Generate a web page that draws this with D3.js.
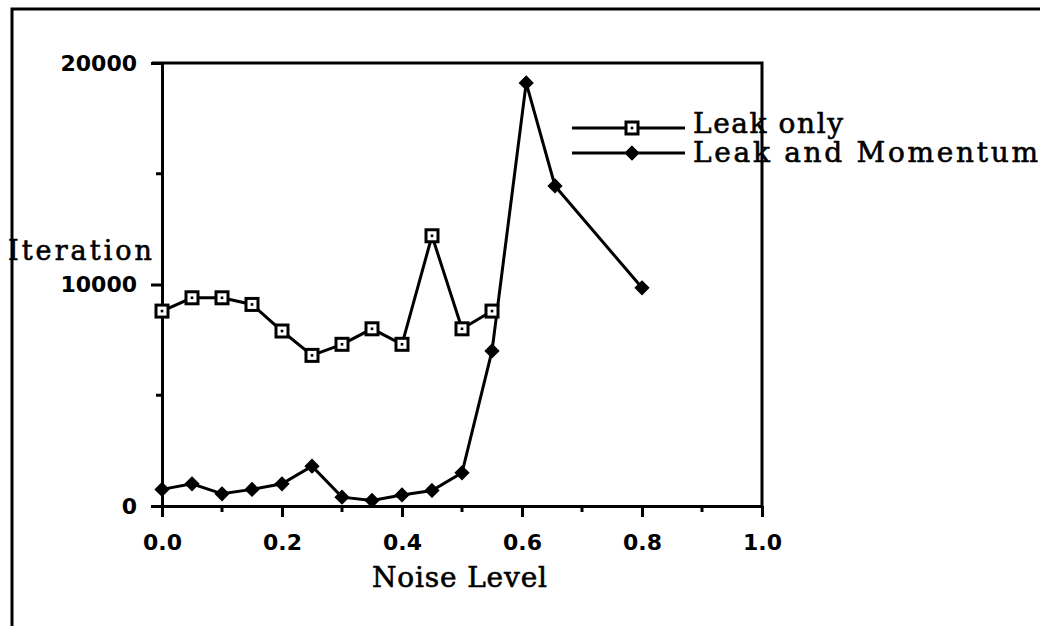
<!DOCTYPE html>
<html>
<head>
<meta charset="utf-8">
<script src="https://d3js.org/d3.v7.min.js"></script>
<style>
  body { margin: 0; background: white; }
  svg { display: block; }
</style>
</head>
<body>
<script>
// noise levels and iteration counts
var leakNoise = [0, 0.05, 0.1, 0.15, 0.2, 0.25, 0.3, 0.35, 0.4, 0.45, 0.5, 0.55];
var leakIter = [8800, 9400, 9400, 9100, 7900, 6800, 7300, 8000, 7300, 12200, 8000, 8800];

var momNoise = [0, 0.05, 0.1, 0.15, 0.2, 0.25, 0.3, 0.35, 0.4, 0.45, 0.5, 0.55, 0.607, 0.655, 0.8];
var momIter = [750, 1000, 550, 750, 1000, 1800, 400, 250, 500, 700, 1500, 7000, 19100, 14450, 9850];

var xTicks = [0, 0.2, 0.4, 0.6, 0.8, 1.0];
var xMinor = [0.1, 0.3, 0.5, 0.7, 0.9];
var yTicks = [0, 10000, 20000];
var yMinor = [5000, 15000];

var seriesNames = ["Leak only", "Leak and Momentum"];

var width = 1040, height = 626;
var plotLeft = 162, plotRight = 762, plotTop = 63, plotBottom = 506;

var svg = d3.select("body").append("svg")
    .attr("width", width)
    .attr("height", height)
    .style("background", "white");

// outer frame, cut off at right and bottom like the scan
svg.append("rect")
    .attr("x", 12)
    .attr("y", 9)
    .attr("width", 1100)
    .attr("height", 700)
    .attr("fill", "none")
    .attr("stroke", "black")
    .attr("stroke-width", 3);

var x_scale = d3.scaleLinear()
    .domain([0, 1])
    .range([plotLeft, plotRight]);

var y_scale = d3.scaleLinear()
    .domain([0, 20000])
    .range([plotBottom, plotTop]);

// plot box: top and right sides
svg.append("path")
    .attr("d", "M" + (plotLeft - 10) + "," + plotTop + "H" + plotRight + "V" + plotBottom)
    .attr("fill", "none")
    .attr("stroke", "black")
    .attr("stroke-width", 3);

var xAxis = d3.axisBottom(x_scale)
    .tickValues(xTicks)
    .tickSize(11)
    .tickSizeOuter(0)
    .tickPadding(17)
    .tickFormat(d3.format(".1f"));

var yAxis = d3.axisLeft(y_scale)
    .tickValues(yTicks)
    .tickSize(11)
    .tickSizeOuter(0)
    .tickPadding(14)
    .tickFormat(d3.format("d"));

var gx = svg.append("g")
    .attr("transform", "translate(0," + plotBottom + ")")
    .call(xAxis);

var gy = svg.append("g")
    .attr("transform", "translate(" + plotLeft + ",0)")
    .call(yAxis);

[gx, gy].forEach(function(g){
    g.select(".domain").attr("stroke", "black").attr("stroke-width", 3);
    g.selectAll(".tick line").attr("stroke", "black").attr("stroke-width", 3);
    g.selectAll(".tick text")
        .attr("fill", "black")
        .style("font-family", "'DejaVu Sans', sans-serif")
        .style("font-weight", "bold")
        .style("font-size", "22px");
});

// minor ticks
svg.selectAll(".xminor").data(xMinor).enter().append("line")
    .attr("x1", function(d){ return x_scale(d); })
    .attr("x2", function(d){ return x_scale(d); })
    .attr("y1", plotBottom)
    .attr("y2", plotBottom + 6)
    .attr("stroke", "black")
    .attr("stroke-width", 3);

svg.selectAll(".yminor").data(yMinor).enter().append("line")
    .attr("x1", plotLeft)
    .attr("x2", plotLeft - 6)
    .attr("y1", function(d){ return y_scale(d); })
    .attr("y2", function(d){ return y_scale(d); })
    .attr("stroke", "black")
    .attr("stroke-width", 3);

var leakData = leakNoise.map(function(n, i){ return {x: n, y: leakIter[i]}; });
var momData = momNoise.map(function(n, i){ return {x: n, y: momIter[i]}; });

var line = d3.line()
    .x(function(d){ return x_scale(d.x); })
    .y(function(d){ return y_scale(d.y); });

svg.append("path")
    .datum(leakData)
    .attr("d", line)
    .attr("fill", "none")
    .attr("stroke", "black")
    .attr("stroke-width", 3);

svg.append("path")
    .datum(momData)
    .attr("d", line)
    .attr("fill", "none")
    .attr("stroke", "black")
    .attr("stroke-width", 3);

function drawSquare(g, cx, cy){
    g.append("rect")
        .attr("x", cx - 6)
        .attr("y", cy - 6)
        .attr("width", 12)
        .attr("height", 12)
        .attr("fill", "white")
        .attr("stroke", "black")
        .attr("stroke-width", 3);
    g.append("rect")
        .attr("x", cx - 1.3)
        .attr("y", cy - 1.3)
        .attr("width", 2.6)
        .attr("height", 2.6)
        .attr("fill", "black");
}

var diamond = d3.symbol().type(d3.symbolDiamond2).size(110);

leakData.forEach(function(d){
    drawSquare(svg, x_scale(d.x), y_scale(d.y));
});

svg.selectAll(".dia").data(momData).enter().append("path")
    .attr("d", diamond)
    .attr("transform", function(d){ return "translate(" + x_scale(d.x) + "," + y_scale(d.y) + ")"; })
    .attr("fill", "black")
    .attr("stroke", "black")
    .attr("stroke-width", 1.5);

// legend
var legendY = [128, 153];
var baseY = [133, 162];
legendY.forEach(function(ly, i){
    svg.append("line")
        .attr("x1", 572).attr("x2", 685)
        .attr("y1", ly).attr("y2", ly)
        .attr("stroke", "black")
        .attr("stroke-width", 3);
    if (i == 0) {
        drawSquare(svg, 632, ly);
    } else {
        svg.append("path")
            .attr("d", diamond)
            .attr("transform", "translate(632," + ly + ")")
            .attr("fill", "black")
            .attr("stroke", "black")
            .attr("stroke-width", 1.5);
    }
    svg.append("text")
        .attr("x", 693)
        .attr("y", baseY[i])
        .attr("textLength", i == 0 ? 150 : 345)
        .attr("lengthAdjust", "spacing")
        .attr("stroke", "black")
        .attr("stroke-width", 0.6)
        .style("font-family", "'DejaVu Serif', serif")
        .style("font-size", "28px")
        .text(seriesNames[i]);
});

// axis titles
svg.append("text")
    .attr("x", 8)
    .attr("y", 260)
    .attr("textLength", 144)
    .attr("lengthAdjust", "spacing")
    .attr("stroke", "black")
    .attr("stroke-width", 0.6)
    .style("font-family", "'DejaVu Serif', serif")
    .style("font-size", "27px")
    .text("Iteration");

svg.append("text")
    .attr("x", 372)
    .attr("y", 587)
    .attr("textLength", 175)
    .attr("lengthAdjust", "spacing")
    .attr("stroke", "black")
    .attr("stroke-width", 0.6)
    .style("font-family", "'DejaVu Serif', serif")
    .style("font-size", "28px")
    .text("Noise Level");
</script>
</body>
</html>
